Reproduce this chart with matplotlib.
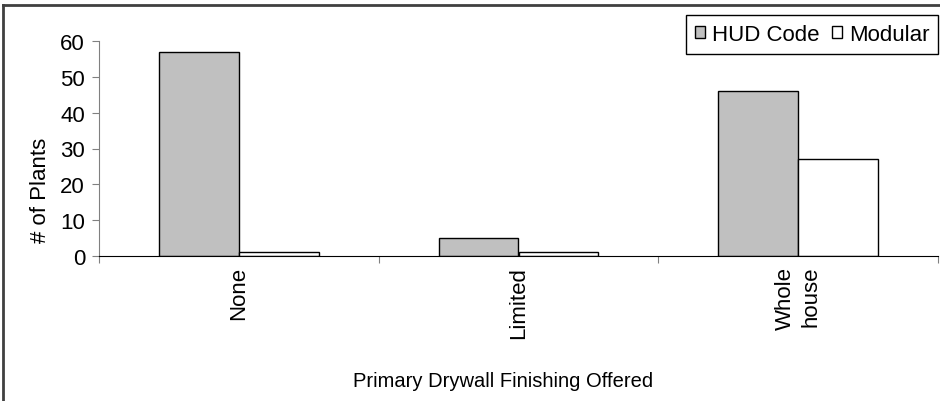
import numpy as np
import matplotlib.pyplot as plt
from matplotlib.lines import Line2D

plt.rcParams['font.family'] = ['Liberation Sans', 'DejaVu Sans']

# dati
categorie = ["None", "Limited", "Whole\nhouse"]
hud_code = [57, 5, 46]
modular = [1, 1, 27]

fs = 16
fig = plt.figure(figsize=(9.4, 4.02), dpi=100)
ax = fig.add_axes([99 / 940, 145 / 402, 839 / 940, 215 / 402])

x = np.arange(len(categorie))
w = 80 / 280
ax.bar(x - w / 2, hud_code, w, color="#c0c0c0", edgecolor="black", linewidth=1, label="HUD Code")
ax.bar(x + w / 2, modular, w, color="white", edgecolor="black", linewidth=1, label="Modular")

ax.set_xlim(-0.5, len(categorie) - 0.5)
ax.set_ylim(0, 60)
ax.set_yticks(range(0, 61, 10))
ax.tick_params(axis="y", labelsize=fs, length=5, color="#808080", pad=5)

# tacche ai confini delle categorie, etichette al centro
ax.set_xticks(np.arange(-0.5, len(categorie), 1.0))
ax.set_xticklabels([])
ax.tick_params(axis="x", which="major", length=5, color="#808080", direction="out")
ax.set_xticks(x, minor=True)
ax.set_xticklabels(categorie, minor=True, rotation=90, fontsize=fs, va="top", ha="center",
                   multialignment="right", linespacing=1.3)
ax.tick_params(axis="x", which="minor", length=0, pad=7)

for s in ["top", "right"]:
    ax.spines[s].set_visible(False)
ax.spines["left"].set_color("#808080")
ax.spines["bottom"].set_color("black")

fig.text(40 / 940, 1 - 190 / 402, "# of Plants", rotation=90, fontsize=fs, ha="center", va="center")
fig.text(503 / 940, 1 - 382 / 402, "Primary Drywall Finishing Offered", fontsize=14.5,
         ha="center", va="center")

leg = fig.legend(loc="upper left", bbox_to_anchor=(686 / 940, 1 - 16 / 402), ncol=2,
                 fontsize=fs, fancybox=False, edgecolor="black", framealpha=1,
                 handlelength=0.45, handleheight=0.45, handletextpad=0.3,
                 columnspacing=0.6, borderpad=0.4, borderaxespad=0)
leg.get_frame().set_linewidth(1)

# cornice del grafico (solo lati sinistro e superiore visibili)
fig.add_artist(Line2D([3 / 940, 3 / 940], [0, 1 - 6 / 402], color="#404040", linewidth=2))
fig.add_artist(Line2D([3 / 940, 1], [1 - 6 / 402, 1 - 6 / 402], color="#404040", linewidth=2))

fig.savefig("out.png", dpi=100)
